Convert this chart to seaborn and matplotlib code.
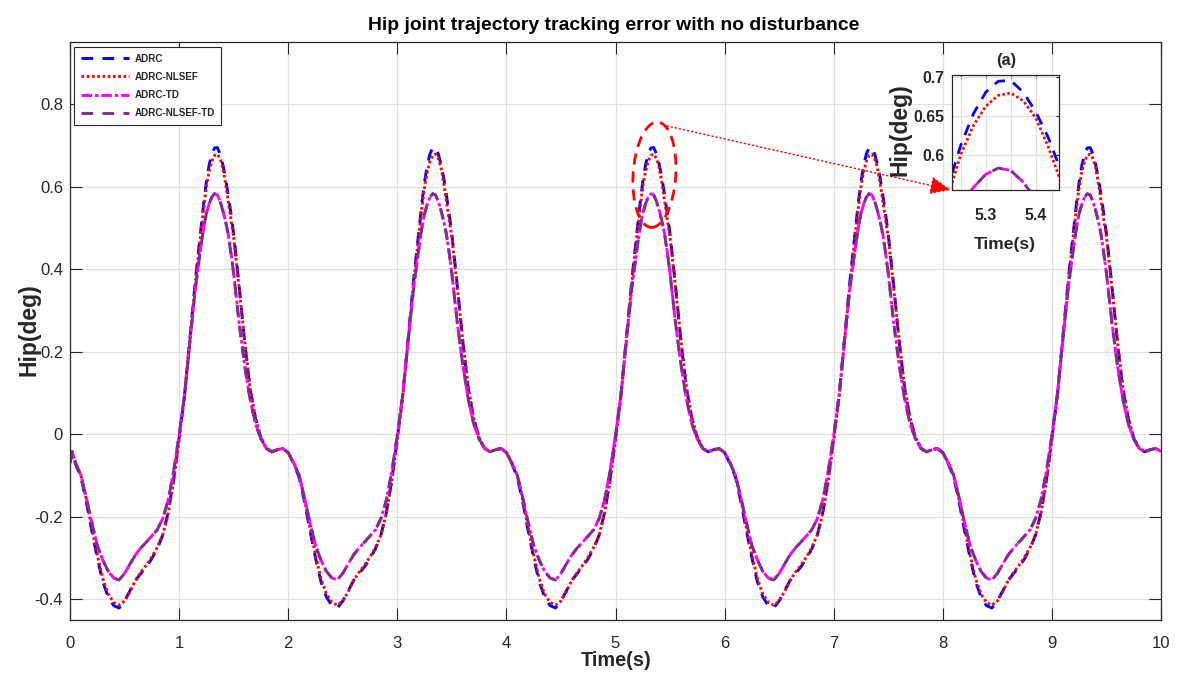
import numpy as np
import pandas as pd
import matplotlib
matplotlib.use("Agg")
import matplotlib.pyplot as plt
import matplotlib.transforms as mtransforms
from matplotlib.patches import Ellipse, ArrowStyle
from matplotlib import font_manager as fm
import seaborn as sns

# ---------------- data ----------------
# phase inside one 2-s gait cycle
phase = [0.00, 0.05, 0.10, 0.15, 0.20, 0.25, 0.30, 0.35, 0.40, 0.45,
         0.50, 0.55, 0.60, 0.65, 0.70, 0.75, 0.80, 0.85, 0.90, 0.95,
         1.00, 1.05, 1.10, 1.15, 1.20, 1.225, 1.25, 1.275, 1.30, 1.325,
         1.35, 1.375, 1.40, 1.425, 1.45, 1.475, 1.50, 1.55, 1.60, 1.65,
         1.70, 1.75, 1.80, 1.85, 1.90, 1.95]

adrc = [-0.045, -0.072, -0.105, -0.165, -0.235, -0.300, -0.358, -0.395, -0.416, -0.422,
        -0.405, -0.380, -0.355, -0.338, -0.322, -0.302, -0.278, -0.245, -0.190, -0.110,
        -0.010, 0.095, 0.236, 0.375, 0.500, 0.560, 0.612, 0.652, 0.680, 0.694,
        0.695, 0.680, 0.655, 0.622, 0.580, 0.535, 0.485, 0.360, 0.225, 0.110,
        0.038, -0.010, -0.035, -0.043, -0.038, -0.035]

adrc_nlsef = [-0.045, -0.070, -0.100, -0.160, -0.228, -0.293, -0.350, -0.388, -0.408, -0.415,
              -0.405, -0.382, -0.355, -0.335, -0.318, -0.298, -0.275, -0.245, -0.192, -0.115,
              -0.015, 0.090, 0.230, 0.368, 0.490, 0.548, 0.600, 0.637, 0.662, 0.676,
              0.679, 0.669, 0.647, 0.610, 0.566, 0.520, 0.478, 0.355, 0.228, 0.115,
              0.040, -0.008, -0.034, -0.043, -0.038, -0.035]

adrc_td = [-0.045, -0.070, -0.100, -0.155, -0.215, -0.270, -0.305, -0.333, -0.349, -0.354,
           -0.338, -0.315, -0.293, -0.276, -0.262, -0.247, -0.232, -0.205, -0.160, -0.090,
           -0.003, 0.095, 0.228, 0.355, 0.455, 0.500, 0.535, 0.558, 0.575, 0.583,
           0.580, 0.565, 0.543, 0.517, 0.485, 0.440, 0.390, 0.270, 0.168, 0.085,
           0.025, -0.012, -0.035, -0.043, -0.038, -0.035]

adrc_nlsef_td = [-0.045, -0.070, -0.100, -0.155, -0.215, -0.270, -0.305, -0.333, -0.349, -0.354,
                 -0.338, -0.315, -0.293, -0.276, -0.262, -0.247, -0.232, -0.205, -0.160, -0.090,
                 -0.003, 0.095, 0.228, 0.355, 0.455, 0.500, 0.535, 0.558, 0.575, 0.583,
                 0.580, 0.565, 0.543, 0.517, 0.485, 0.440, 0.390, 0.270, 0.168, 0.085,
                 0.025, -0.012, -0.035, -0.043, -0.038, -0.035]

cycle_starts = [0, 2, 4, 6, 8]
start_t = [0.0, 0.02]
start_vals = [-0.070, -0.043]
end_t = 10.0
end_val = -0.042

series_names = ["ADRC", "ADRC-NLSEF", "ADRC-TD", "ADRC-NLSEF-TD"]
series_cycles = [adrc, adrc_nlsef, adrc_td, adrc_nlsef_td]

x_ticks = [0, 1, 2, 3, 4, 5, 6, 7, 8, 9, 10]
x_tick_labels = ["0", "1", "2", "3", "4", "5", "6", "7", "8", "9", "10"]
y_ticks = [-0.4, -0.2, 0.0, 0.2, 0.4, 0.6, 0.8]
y_tick_labels = ["-0.4", "-0.2", "0", "0.2", "0.4", "0.6", "0.8"]
inset_x_ticks = [5.25, 5.30, 5.35, 5.40]
inset_x_labels = ["", "5.3", "", "5.4"]
inset_y_ticks = [0.60, 0.65, 0.70]
inset_y_labels = ["0.6", "0.65", "0.7"]

title_text = "Hip joint trajectory tracking error with no disturbance"
x_label = "Time(s)"
y_label = "Hip(deg)"
inset_title = "(a)"


def build_series(cycle_vals):
    t = list(start_t)
    v = list(start_vals)
    for c in cycle_starts:
        for p, val in zip(phase, cycle_vals):
            if c == 0 and p == 0.0:
                continue
            t.append(c + p)
            v.append(val)
    t.append(end_t)
    v.append(end_val)
    return pd.DataFrame({"t": t, "v": v})


# ---------------- style ----------------
sns.set_style("whitegrid")
names = {f.name for f in fm.fontManager.ttflist}
HAS_NARROW = "Liberation Sans Narrow" in names
NARROW = "Liberation Sans Narrow" if HAS_NARROW else "Liberation Sans"
k = 1.0 if HAS_NARROW else 0.84
plt.rcParams["font.family"] = ["Liberation Sans", "DejaVu Sans"]
plt.rcParams["axes.unicode_minus"] = False

colors = {"ADRC": "#0000FF", "ADRC-NLSEF": "#FF0000",
          "ADRC-TD": "#FF00FF", "ADRC-NLSEF-TD": "#7E2F8E"}
lstyles = {"ADRC": (0, (4.0, 3.2)), "ADRC-NLSEF": (0, (0.9, 0.9)),
           "ADRC-TD": (0, (3.6, 1.0, 1.2, 1.0)), "ADRC-NLSEF-TD": (0, (4.0, 3.2))}

AX_COL = "#262626"
GRID_COL = "#e0e0e0"
TICK_FS = 12.0 if not HAS_NARROW else 13.5

fig = plt.figure(figsize=(11.78, 6.75), dpi=100)
ax = fig.add_axes([70 / 1178, 1 - 620 / 675, 1091 / 1178, 578 / 675])

frames = {n: build_series(c) for n, c in zip(series_names, series_cycles)}
for n in series_names:
    df = frames[n]
    sns.lineplot(data=df, x="t", y="v", ax=ax, color=colors[n], linestyle=lstyles[n],
                 linewidth=2.1, label=n, estimator=None, sort=False)

ax.set_xlim(0, 10)
ax.set_ylim(-0.451, 0.951)
ax.set_xticks(x_ticks)
ax.set_xticklabels(x_tick_labels, fontfamily=NARROW, fontsize=TICK_FS, color=AX_COL)
ax.set_yticks(y_ticks)
ax.set_yticklabels(y_tick_labels, fontfamily=NARROW, fontsize=TICK_FS, color=AX_COL)
ax.set_xlabel("")
ax.set_ylabel("")
ax.grid(True, color=GRID_COL, linewidth=0.9)
ax.tick_params(axis="both", direction="in", length=8.5, width=0.8, colors=AX_COL,
               top=True, right=True, bottom=True, left=True)
ax.tick_params(axis="x", pad=11.5)
ax.tick_params(axis="y", pad=5)
for s in ax.spines.values():
    s.set_color(AX_COL)
    s.set_linewidth(0.9)
    s.set_visible(True)

handles, labels = ax.get_legend_handles_labels()
leg = ax.legend(handles, labels, loc="upper left", bbox_to_anchor=(4 / 1091, 1 - 5 / 578),
                borderaxespad=0, frameon=True, fancybox=False, framealpha=1,
                edgecolor=AX_COL, handlelength=4.9, handletextpad=0.5,
                labelspacing=0.82, borderpad=0.68,
                prop={"family": NARROW, "weight": "bold", "size": 8.5 * k})
leg.get_frame().set_linewidth(0.8)

# dashed ellipse around the 3rd peak (drawn in pixel units at a data centre)
ell_tr = fig.dpi_scale_trans + mtransforms.ScaledTranslation(5.357, 0.629, ax.transData)
ell = Ellipse((0, 0), 0.427, 1.055, angle=-3.6, transform=ell_tr, fill=False,
              edgecolor="#FF0000", linewidth=2.0, linestyle=(0, (4, 2.5)), zorder=5)
ax.add_patch(ell)

# dotted arrow to the zoom inset
ax.annotate("", xy=(881 / 1091, (620 - 190) / 578), xycoords="axes fraction",
            xytext=(593 / 1091, (620 - 125) / 578), textcoords="axes fraction",
            arrowprops=dict(arrowstyle=ArrowStyle("-|>", head_length=1.3, head_width=0.55),
                            mutation_scale=10, color="#FF0000", linestyle=(0, (1, 2)),
                            linewidth=1.0, shrinkA=0, shrinkB=0), zorder=6)

# ---------------- inset ----------------
axi = fig.add_axes([951.7 / 1178, 1 - 190 / 675, 107.6 / 1178, 115 / 675])
for n in series_names:
    df = frames[n]
    sns.lineplot(data=df, x="t", y="v", ax=axi, color=colors[n], linestyle=lstyles[n],
                 linewidth=2.0, estimator=None, sort=False, legend=False)
axi.set_xlim(5.232, 5.447)
axi.set_ylim(0.555, 0.702)
axi.set_xticks(inset_x_ticks)
axi.set_xticklabels(inset_x_labels, fontfamily=NARROW, fontsize=13.5 * k,
                    fontweight="bold", color=AX_COL)
axi.set_yticks(inset_y_ticks)
axi.set_yticklabels(inset_y_labels, fontfamily=NARROW, fontsize=13.5 * k,
                    fontweight="bold", color=AX_COL)
axi.set_xlabel("")
axi.set_ylabel("")
axi.grid(True, color=GRID_COL, linewidth=0.9)
axi.tick_params(axis="both", direction="in", length=2.5, width=0.8, colors=AX_COL,
                top=True, right=True)
axi.tick_params(axis="x", pad=13)
axi.tick_params(axis="y", pad=5)
for s in axi.spines.values():
    s.set_color(AX_COL)
    s.set_linewidth(0.9)
    s.set_visible(True)

# ---------------- texts ----------------
fig.text(614 / 1178, 1 - 29.5 / 675, title_text, ha="center", va="baseline",
         fontfamily=NARROW, fontweight="bold", fontsize=16.6 * k, color="black")
fig.text(616.5 / 1178, 1 - 666 / 675, x_label, ha="center", va="baseline",
         fontfamily=NARROW, fontweight="bold", fontsize=17 * k, color=AX_COL)
fig.text(29 / 1178, 1 - 330 / 675, y_label, ha="center", va="center", rotation=90,
         fontfamily="Liberation Sans", fontweight="bold", fontsize=16.5, color=AX_COL)
fig.text(1006 / 1178, 1 - 60 / 675, inset_title, ha="center", va="center",
         fontfamily=NARROW, fontweight="bold", fontsize=14 * k, color=AX_COL)
fig.text(1005 / 1178, 1 - 248.5 / 675, x_label, ha="center", va="baseline",
         fontfamily=NARROW, fontweight="bold", fontsize=15 * k, color=AX_COL)
fig.text(900 / 1178, 1 - 130 / 675, y_label, ha="center", va="center", rotation=90,
         fontfamily="Liberation Sans", fontweight="bold", fontsize=16.5, color=AX_COL)

fig.savefig("out.png", dpi=100)
